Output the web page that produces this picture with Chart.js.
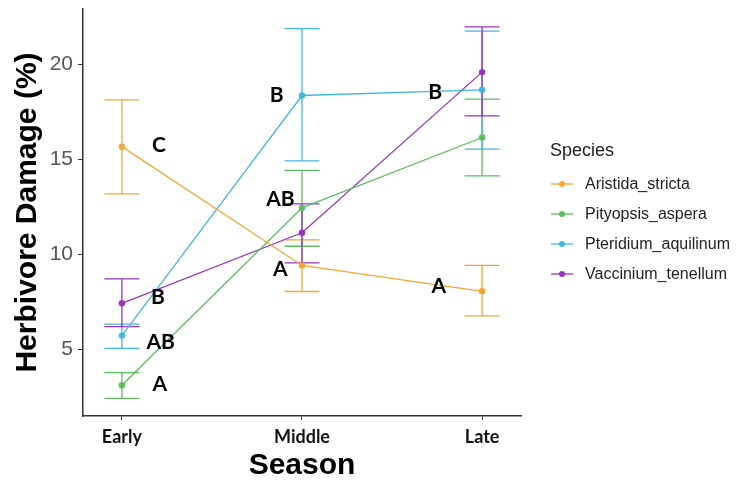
<!DOCTYPE html>
<html>
<head>
<meta charset="utf-8">
<script src="https://cdn.jsdelivr.net/npm/chart.js@4.4.0/dist/chart.umd.min.js"></script>
<style>
  body { margin: 0; background: #fff; }
  #wrap { position: relative; width: 738px; height: 481px; }
  #legend { position: absolute; left: 550px; top: 140px; font-family: "Liberation Sans", Arial, sans-serif; }
  #legend .ttl { font-size: 18px; color: #222; margin-bottom: 8px; }
  #legend .row { display: flex; align-items: center; height: 30px; font-size: 16px; color: #222; }
  #legend canvas { margin-right: 11px; }
</style>
</head>
<body>
<div id="wrap">
  <canvas id="myChart" width="738" height="481"></canvas>
  <div id="legend"><div class="ttl">Species</div></div>
</div>
<script>
// Kategorien und Werte
const seasons = ["Early", "Middle", "Late"];
const speciesNames = ["Aristida_stricta", "Pityopsis_aspera", "Pteridium_aquilinum", "Vaccinium_tenellum"];
const speciesColors = ["#F4A535", "#5BBE5E", "#45B6E3", "#9B32C6"];

const aristidaMean = [15.66, 9.41, 8.05];
const aristidaUpper = [18.12, 10.76, 9.41];
const aristidaLower = [13.17, 8.04, 6.76];

const pityopsisMean = [3.11, 12.44, 16.14];
const pityopsisUpper = [3.77, 14.41, 18.16];
const pityopsisLower = [2.42, 10.42, 14.12];

const pteridiumMean = [5.72, 18.35, 18.65];
const pteridiumUpper = [6.32, 21.87, 21.74];
const pteridiumLower = [5.05, 14.91, 15.53];

const vacciniumMean = [7.42, 11.13, 19.58];
const vacciniumUpper = [8.70, 12.65, 21.96];
const vacciniumLower = [6.19, 9.55, 17.28];

const yTicks = [5, 10, 15, 20];

// Buchstaben (Signifikanzgruppen): Text, Saison-Index, Versatz, Hoehe
const letterText = ["C", "B", "AB", "A", "B", "AB", "A", "B", "A"];
const letterSeason = [0, 0, 0, 0, 1, 1, 1, 2, 2];
const letterShift = [0.205, 0.2, 0.215, 0.21, -0.14, -0.12, -0.12, -0.26, -0.24];
const letterY = [15.75, 7.75, 5.38, 3.17, 18.38, 12.9, 9.2, 18.5, 8.3];

const means = [aristidaMean, pityopsisMean, pteridiumMean, vacciniumMean];
const uppers = [aristidaUpper, pityopsisUpper, pteridiumUpper, vacciniumUpper];
const lowers = [aristidaLower, pityopsisLower, pteridiumLower, vacciniumLower];

const datasets = speciesNames.map(function (name, i) {
  return {
    label: name,
    data: means[i].map(function (v, j) { return { x: j, y: v, hi: uppers[i][j], lo: lowers[i][j] }; }),
    borderColor: speciesColors[i],
    backgroundColor: speciesColors[i],
    borderWidth: 1.3,
    pointRadius: 3.2,
    pointHoverRadius: 3.2,
    pointBorderWidth: 0,
    tension: 0
  };
});

// Fehlerbalken
const errorBars = {
  id: "errorBars",
  beforeDatasetsDraw(chart) {
    const ctx = chart.ctx, xs = chart.scales.x, ys = chart.scales.y;
    chart.data.datasets.forEach(function (ds) {
      ctx.save();
      ctx.strokeStyle = ds.borderColor;
      ctx.lineWidth = 1.3;
      ds.data.forEach(function (p) {
        const x = xs.getPixelForValue(p.x);
        const xl = xs.getPixelForValue(p.x - 0.097);
        const xr = xs.getPixelForValue(p.x + 0.097);
        const yh = ys.getPixelForValue(p.hi);
        const yl = ys.getPixelForValue(p.lo);
        ctx.beginPath();
        ctx.moveTo(x, yh); ctx.lineTo(x, yl);
        ctx.moveTo(xl, yh); ctx.lineTo(xr, yh);
        ctx.moveTo(xl, yl); ctx.lineTo(xr, yl);
        ctx.stroke();
      });
      ctx.restore();
    });
  }
};

// Buchstaben
const letters = {
  id: "letters",
  afterDatasetsDraw(chart) {
    const ctx = chart.ctx, xs = chart.scales.x, ys = chart.scales.y;
    ctx.save();
    ctx.fillStyle = "#000";
    ctx.font = "bold 21px Lato, 'Open Sans', sans-serif";
    ctx.textAlign = "center";
    ctx.textBaseline = "middle";
    for (let i = 0; i < letterText.length; i++) {
      ctx.fillText(letterText[i],
        xs.getPixelForValue(letterSeason[i] + letterShift[i]),
        ys.getPixelForValue(letterY[i]));
    }
    ctx.restore();
  }
};

const lineChart = document.getElementById("myChart");
let myChart = new Chart(lineChart, {
  type: "line",
  data: { datasets: datasets },
  options: {
    responsive: false,
    animation: false,
    layout: { padding: { left: 0, right: 217, top: 9, bottom: 0 } },
    plugins: { legend: { display: false }, tooltip: { enabled: false } },
    scales: {
      x: {
        type: "linear",
        min: -0.216,
        max: 2.216,
        afterBuildTicks: function (s) { s.ticks = [0, 1, 2].map(function (v) { return { value: v }; }); },
        afterFit: function (s) { s.height = 65; s.paddingLeft = 0; s.paddingRight = 0; },
        ticks: {
          callback: function (v) { return seasons[v]; },
          font: { family: "Lato, 'Open Sans', sans-serif", size: 18, weight: "bold" },
          color: "#111",
          padding: 6,
          maxRotation: 0
        },
        grid: { drawOnChartArea: false, tickLength: 4, color: "#333" },
        border: { color: "#333", width: 1.5 },
        title: {
          display: true,
          text: "Season",
          font: { family: "'Liberation Sans', Arial, sans-serif", size: 30, weight: "bold", lineHeight: 1 },
          color: "#000",
          padding: { top: 0, bottom: 0 }
        }
      },
      y: {
        min: 1.49,
        max: 22.9,
        afterBuildTicks: function (s) { s.ticks = yTicks.map(function (v) { return { value: v }; }); },
        afterFit: function (s) { s.width = 83; s.paddingTop = 0; s.paddingBottom = 0; },
        ticks: {
          font: { family: "'Liberation Sans', Arial, sans-serif", size: 21 },
          color: "#555",
          padding: 5
        },
        grid: { drawOnChartArea: false, tickLength: 5, color: "#333" },
        border: { color: "#333", width: 1.5 },
        title: {
          display: true,
          text: "Herbivore Damage (%)",
          font: { family: "'Liberation Sans', Arial, sans-serif", size: 30, weight: "bold", lineHeight: 1 },
          color: "#000",
          padding: { top: 13, bottom: 0 }
        }
      }
    }
  },
  plugins: [errorBars, letters]
});

// Legende
const legendBox = document.getElementById("legend");
speciesNames.forEach(function (name, i) {
  const row = document.createElement("div");
  row.className = "row";
  const c = document.createElement("canvas");
  c.width = 24; c.height = 10;
  const g = c.getContext("2d");
  g.strokeStyle = speciesColors[i]; g.lineWidth = 1.3;
  g.beginPath(); g.moveTo(1, 5); g.lineTo(23, 5); g.stroke();
  g.fillStyle = speciesColors[i];
  g.beginPath(); g.arc(12, 5, 3, 0, Math.PI * 2); g.fill();
  row.appendChild(c);
  const t = document.createElement("span");
  t.textContent = name;
  row.appendChild(t);
  legendBox.appendChild(row);
});
</script>
</body>
</html>
